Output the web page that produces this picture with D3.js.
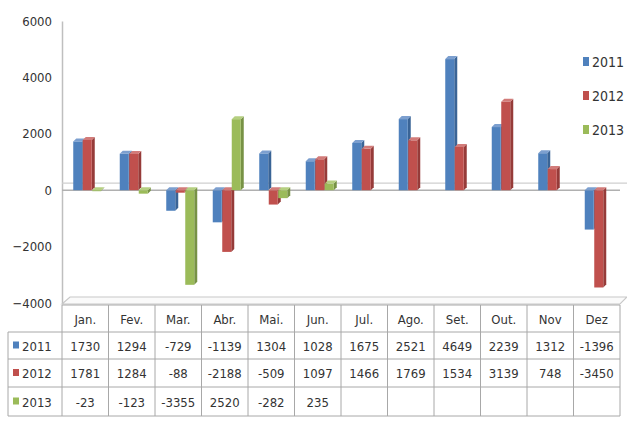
<!DOCTYPE html>
<html><head><meta charset="utf-8">
<script src="https://cdn.jsdelivr.net/npm/d3@7"></script>
<style>
body{margin:0;background:#fff;}
text{font-family:"Liberation Sans Narrow","DejaVu Sans Condensed","Liberation Sans",sans-serif;font-stretch:condensed;fill:#333;}
</style></head>
<body><svg id="c" width="627" height="421"></svg>
<script>
const months = ["Jan.","Fev.","Mar.","Abr.","Mai.","Jun.","Jul.","Ago.","Set.","Out.","Nov","Dez"];
const seriesNames = ["2011","2012","2013"];
const s2011 = [1730,1294,-729,-1139,1304,1028,1675,2521,4649,2239,1312,-1396];
const s2012 = [1781,1284,-88,-2188,-509,1097,1466,1769,1534,3139,748,-3450];
const s2013 = [-23,-123,-3355,2520,-282,235,null,null,null,null,null,null];
const yTicks = [-4000,-2000,0,2000,4000,6000];

const seriesValues = [s2011, s2012, s2013];
const colors = ["#4f81bd","#c0504d","#9bbb59"];
const sideColors = ["#3a6496","#963b39","#779245"];
const topColors = ["#7c9fcf","#d27b79","#b5cf80"];

const svg = d3.select("#c");
const x = d3.scaleBand().domain(months).range([62,620]);
const y = d3.scaleLinear().domain([-4000,6000]).range([303,21]);
const yAxis = d3.axisLeft(y).tickValues(yTicks).tickSize(0).tickPadding(10).tickFormat(d3.format("d"));

// y axis
const ga = svg.append("g").attr("transform","translate(62,0)").call(yAxis);
ga.select(".domain").attr("stroke","#bfbfbf").attr("stroke-width",1.5);
ga.selectAll("text").style("font-size","13px").attr("fill","#333");

// floor at bottom (3D)
const fy = y(-4000);
svg.append("path")
  .attr("d",`M62,${fy+1} L70,${fy-6} L627,${fy-6} L620,${fy+1} Z`)
  .attr("fill","#fafafa").attr("stroke","#c8c8c8").attr("stroke-width",1.2);

// zero plane lines
const z = y(0);
svg.append("line").attr("x1",62).attr("x2",627).attr("y1",z-7).attr("y2",z-7).attr("stroke","#cfcfcf").attr("stroke-width",1.2);
svg.append("line").attr("x1",62).attr("x2",620).attr("y1",z).attr("y2",z).attr("stroke","#b0b0b0").attr("stroke-width",1.5);

// bars
const bw = 9, dx = 3, dy = 3, step = 9.5;
seriesValues.forEach((vals, si) => {
  const g = svg.append("g");
  vals.forEach((v, mi) => {
    if (v === null) return;
    const cx = x(months[mi]) + x.bandwidth()/2;
    const x0 = cx - 12 + si*step;
    const top = Math.min(y(v), z), bot = Math.max(y(v), z);
    g.append("path").attr("d",`M${x0+bw},${top} L${x0+bw+dx},${top-dy} L${x0+bw+dx},${bot-dy} L${x0+bw},${bot} Z`)
      .attr("fill", sideColors[si]);
    g.append("rect").attr("x",x0).attr("y",top).attr("width",bw).attr("height",Math.max(bot-top,1))
      .attr("fill", colors[si]);
    g.append("path").attr("d",`M${x0},${top} L${x0+dx},${top-dy} L${x0+bw+dx},${top-dy} L${x0+bw},${top} Z`)
      .attr("fill", topColors[si]);
  });
});

// legend
seriesNames.forEach((n, i) => {
  const ly = 62 + i*34;
  svg.append("rect").attr("x",583).attr("y",ly-5).attr("width",6).attr("height",9).attr("fill",colors[i]);
  svg.append("text").attr("x",592).attr("y",ly+5).text(n).style("font-size","14px");
});

// data table
const rowTops = [305, 332, 359, 387, 416];
const tbl = svg.append("g");
const lineColor = "#a8a8a8";
rowTops.forEach((ry, i) => {
  tbl.append("line").attr("x1", i===0 ? 62 : 8).attr("x2",620).attr("y1",ry).attr("y2",ry)
    .attr("stroke",lineColor).attr("stroke-width",1);
});
const colEdges = months.map(m => x(m)).concat([620]);
colEdges.forEach(cxe => {
  tbl.append("line").attr("x1",cxe).attr("x2",cxe).attr("y1",rowTops[0]).attr("y2",rowTops[4])
    .attr("stroke",lineColor).attr("stroke-width",1);
});
tbl.append("line").attr("x1",8).attr("x2",8).attr("y1",rowTops[1]).attr("y2",rowTops[4])
  .attr("stroke",lineColor).attr("stroke-width",1);
months.forEach(m => {
  tbl.append("text").attr("x",x(m)+x.bandwidth()/2).attr("y",(rowTops[0]+rowTops[1])/2+5)
    .attr("text-anchor","middle").style("font-size","13px").text(m);
});
seriesValues.forEach((vals, si) => {
  const cy = (rowTops[si+1]+rowTops[si+2])/2 + 5;
  tbl.append("rect").attr("x",13).attr("y",cy-9).attr("width",6).attr("height",7).attr("fill",colors[si]);
  tbl.append("text").attr("x",22).attr("y",cy).style("font-size","13px").text(seriesNames[si]);
  vals.forEach((v, mi) => {
    if (v === null) return;
    tbl.append("text").attr("x",x(months[mi])+x.bandwidth()/2).attr("y",cy)
      .attr("text-anchor","middle").style("font-size","13px").text(v);
  });
});
</script></body></html>
